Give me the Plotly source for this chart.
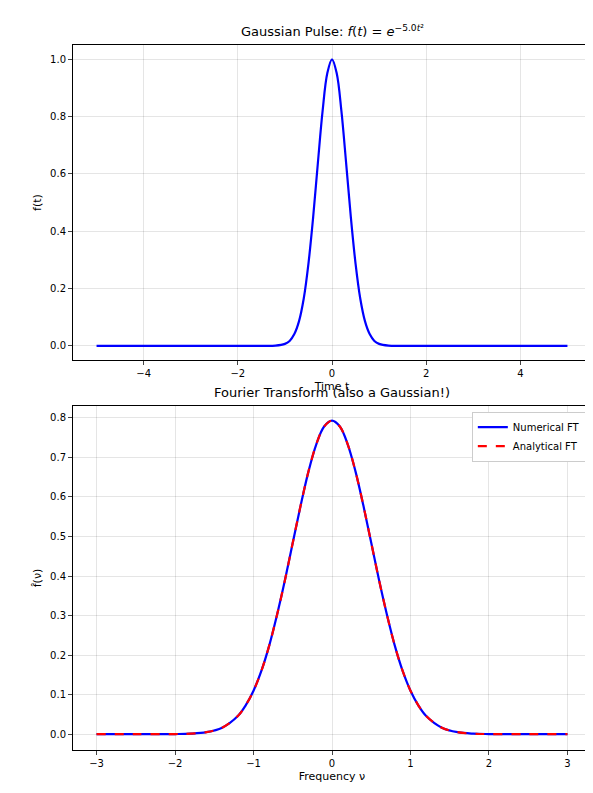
import plotly.graph_objects as go
from plotly.subplots import make_subplots

# values
t_vals = [-5, -3, -2, -1.5, -1.2, -1.0, -0.9, -0.8, -0.7, -0.6, -0.5, -0.4, -0.3, -0.2, -0.1, 0,
          0.1, 0.2, 0.3, 0.4, 0.5, 0.6, 0.7, 0.8, 0.9, 1.0, 1.2, 1.5, 2, 3, 5]
f_vals = [0, 0, 0, 0, 0.0007, 0.0067, 0.017, 0.041, 0.086, 0.165, 0.287, 0.449, 0.638, 0.819, 0.951, 1.0,
          0.951, 0.819, 0.638, 0.449, 0.287, 0.165, 0.086, 0.041, 0.017, 0.0067, 0.0007, 0, 0, 0, 0]

nu_half = [0, 0.1, 0.2, 0.3, 0.4, 0.5, 0.6, 0.7, 0.8, 0.9, 1.0, 1.1, 1.2, 1.4, 1.6, 1.8, 2.0, 2.5, 3.0]
ft_half = [0.793, 0.778, 0.733, 0.664, 0.578, 0.484, 0.389, 0.302, 0.224, 0.160, 0.110, 0.073, 0.046,
           0.0165, 0.0051, 0.0013, 0.0003, 0, 0]
nu_vals = [-v for v in nu_half[::-1]] + nu_half[1:]
ft_vals = ft_half[::-1] + ft_half[1:]

fig = make_subplots(rows=2, cols=1)
fig.add_trace(go.Scatter(x=t_vals, y=f_vals, mode="lines", line=dict(color="blue", width=2.2, shape="spline"),
                         showlegend=False), row=1, col=1)
fig.add_trace(go.Scatter(x=nu_vals, y=ft_vals, mode="lines", name="Numerical FT",
                         line=dict(color="blue", width=2.2, shape="spline")), row=2, col=1)
fig.add_trace(go.Scatter(x=nu_vals, y=ft_vals, mode="lines", name="Analytical FT",
                         line=dict(color="red", width=2.2, dash="dash", shape="spline")), row=2, col=1)

ax = dict(showline=True, mirror=True, linecolor="black", linewidth=1, ticks="outside", ticklen=4,
          showgrid=True, gridcolor="rgba(0,0,0,0.1)", zeroline=False, tickfont=dict(size=10),
          automargin=False)
fig.update_layout(
    width=593, height=793, template="none", plot_bgcolor="white", paper_bgcolor="white",
    font=dict(family="DejaVu Sans", color="black", size=11),
    margin=dict(l=65, r=10, t=37, b=51),
    xaxis=dict(ax, domain=[0, 1], range=[-5.5, 5.5], dtick=2,
               title=dict(text="Time t", standoff=4, font=dict(size=11))),
    yaxis=dict(ax, domain=[0.553, 1], range=[-0.05, 1.05], dtick=0.2, tickformat=".1f",
               title=dict(text="f(t)", standoff=6, font=dict(size=11))),
    xaxis2=dict(ax, domain=[0, 1], range=[-3.3, 3.3], dtick=1,
                title=dict(text="Frequency ν", standoff=4, font=dict(size=11))),
    yaxis2=dict(ax, domain=[0, 0.488], range=[-0.04, 0.83], dtick=0.1, tickformat=".1f",
                title=dict(text="f̂(ν)", standoff=6, font=dict(size=11))),
    legend=dict(x=0.99, y=0.48, xanchor="right", yanchor="top", bgcolor="white",
                bordercolor="#ccc", borderwidth=1, font=dict(size=10)),
    annotations=[
        dict(text="Gaussian Pulse: <i>f</i>(<i>t</i>) = <i>e</i><sup>−5.0<i>t</i>²</sup>", x=0.5, y=1,
             xref="paper", yref="paper", yanchor="bottom", yshift=4, showarrow=False, font=dict(size=13)),
        dict(text="Fourier Transform (also a Gaussian!)", x=0.5, y=0.488,
             xref="paper", yref="paper", yanchor="bottom", yshift=4, showarrow=False, font=dict(size=13)),
    ],
)
fig.write_html("out.html")
